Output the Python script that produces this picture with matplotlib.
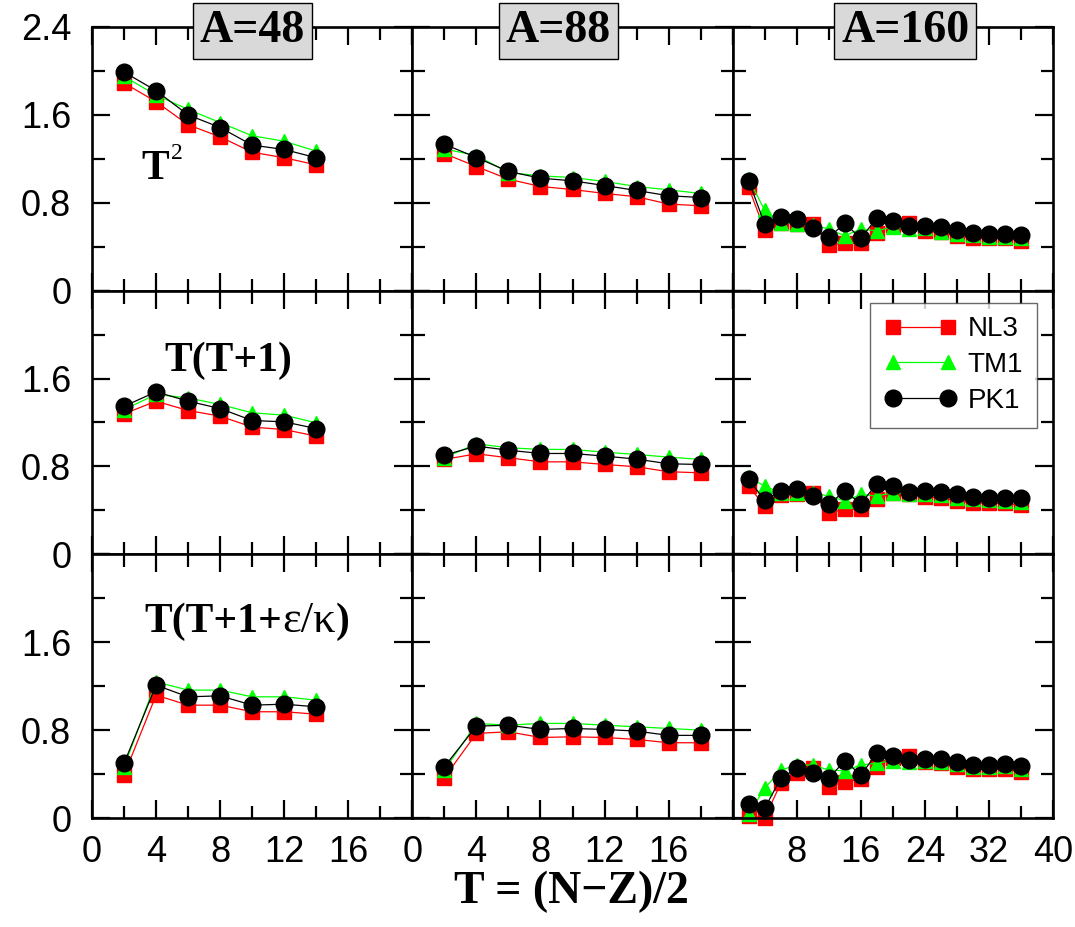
import matplotlib.pyplot as plt
from matplotlib.ticker import MultipleLocator, FuncFormatter

# isospin values for each nucleus
t_48 = [2, 4, 6, 8, 10, 12, 14]
t_88 = [2, 4, 6, 8, 10, 12, 14, 16, 18]
t_160 = [2, 4, 6, 8, 10, 12, 14, 16, 18, 20, 22, 24, 26, 28, 30, 32, 34, 36]

# row 1: T^2
nl3_a_48 = [1.89, 1.72, 1.51, 1.40, 1.26, 1.21, 1.145]
tm1_a_48 = [1.95, 1.78, 1.65, 1.53, 1.41, 1.36, 1.27]
pk1_a_48 = [1.99, 1.82, 1.60, 1.485, 1.325, 1.285, 1.21]
nl3_a_88 = [1.248, 1.13, 1.015, 0.948, 0.921, 0.885, 0.855, 0.788, 0.773]
tm1_a_88 = [1.29, 1.23, 1.075, 1.045, 1.03, 0.994, 0.948, 0.918, 0.885]
pk1_a_88 = [1.333, 1.212, 1.085, 1.024, 1.0, 0.957, 0.912, 0.864, 0.848]
nl3_a_160 = [0.94, 0.55, 0.62, 0.606, 0.61, 0.418, 0.43, 0.43, 0.527, 0.60,
             0.62, 0.54, 0.53, 0.50, 0.48, 0.475, 0.475, 0.455]
tm1_a_160 = [1.02, 0.73, 0.62, 0.61, 0.60, 0.56, 0.50, 0.56, 0.545, 0.58,
             0.56, 0.57, 0.535, 0.52, 0.505, 0.49, 0.49, 0.48]
pk1_a_160 = [1.0, 0.606, 0.667, 0.652, 0.57, 0.485, 0.612, 0.476, 0.661, 0.63,
             0.585, 0.59, 0.582, 0.555, 0.527, 0.515, 0.515, 0.509]

# row 2: T(T+1)
nl3_b_48 = [1.279, 1.394, 1.309, 1.258, 1.158, 1.136, 1.076]
tm1_b_48 = [1.318, 1.455, 1.424, 1.364, 1.288, 1.267, 1.197]
pk1_b_48 = [1.348, 1.479, 1.394, 1.327, 1.218, 1.206, 1.145]
nl3_b_88 = [0.864, 0.915, 0.879, 0.842, 0.842, 0.818, 0.797, 0.752, 0.742]
tm1_b_88 = [0.879, 1.006, 0.97, 0.955, 0.955, 0.93, 0.909, 0.885, 0.864]
pk1_b_88 = [0.903, 0.985, 0.948, 0.918, 0.918, 0.894, 0.867, 0.824, 0.818]
nl3_b_160 = [0.621, 0.439, 0.539, 0.552, 0.561, 0.379, 0.409, 0.409, 0.50, 0.561,
             0.545, 0.521, 0.515, 0.485, 0.470, 0.464, 0.464, 0.448]
tm1_b_160 = [0.70, 0.621, 0.561, 0.561, 0.561, 0.530, 0.485, 0.545, 0.53, 0.561,
             0.545, 0.545, 0.539, 0.515, 0.50, 0.491, 0.485, 0.479]
pk1_b_160 = [0.682, 0.491, 0.576, 0.591, 0.530, 0.455, 0.576, 0.461, 0.642, 0.621,
             0.570, 0.576, 0.570, 0.545, 0.524, 0.515, 0.515, 0.509]

# row 3: T(T+1+eps/kappa)
nl3_c_48 = [0.391, 1.118, 1.027, 1.027, 0.967, 0.967, 0.945]
tm1_c_48 = [0.467, 1.239, 1.164, 1.164, 1.103, 1.103, 1.073]
pk1_c_48 = [0.497, 1.209, 1.103, 1.112, 1.027, 1.036, 1.012]
nl3_c_88 = [0.367, 0.770, 0.785, 0.733, 0.739, 0.733, 0.715, 0.685, 0.685]
tm1_c_88 = [0.436, 0.861, 0.845, 0.861, 0.861, 0.845, 0.830, 0.815, 0.80]
pk1_c_88 = [0.467, 0.836, 0.845, 0.806, 0.815, 0.806, 0.791, 0.752, 0.752]
nl3_c_160 = [0.02, 0.0, 0.315, 0.412, 0.452, 0.285, 0.330, 0.352, 0.467, 0.55,
             0.564, 0.506, 0.497, 0.467, 0.442, 0.442, 0.442, 0.421]
tm1_c_160 = [0.04, 0.27, 0.436, 0.482, 0.482, 0.436, 0.43, 0.482, 0.50, 0.521,
             0.51, 0.52, 0.51, 0.49, 0.467, 0.467, 0.47, 0.45]
pk1_c_160 = [0.127, 0.088, 0.361, 0.452, 0.412, 0.361, 0.521, 0.391, 0.588, 0.567,
             0.527, 0.536, 0.536, 0.506, 0.482, 0.482, 0.491, 0.473]

nuclei = ['A=48', 'A=88', 'A=160']
t_values = [t_48, t_88, t_160]
x_max = [20, 20, 40]
panels = [
    [(nl3_a_48, tm1_a_48, pk1_a_48), (nl3_a_88, tm1_a_88, pk1_a_88), (nl3_a_160, tm1_a_160, pk1_a_160)],
    [(nl3_b_48, tm1_b_48, pk1_b_48), (nl3_b_88, tm1_b_88, pk1_b_88), (nl3_b_160, tm1_b_160, pk1_b_160)],
    [(nl3_c_48, tm1_c_48, pk1_c_48), (nl3_c_88, tm1_c_88, pk1_c_88), (nl3_c_160, tm1_c_160, pk1_c_160)],
]
styles = [('NL3', '#ff0000', 's', 9.5),
          ('TM1', '#00ff00', '^', 10.5),
          ('PK1', 'black', 'o', 12)]

SANS = 'Liberation Sans'
SERIF = 'Liberation Serif'

fig, axes = plt.subplots(3, 3, figsize=(10.75, 9.27), dpi=100)
fig.subplots_adjust(left=92 / 1075, right=1053 / 1075, top=1 - 27 / 927,
                    bottom=1 - 818 / 927, wspace=0, hspace=0)


def y_formatter(hide_top):
    def fmt(v, pos):
        if hide_top and v > 2.3:
            return ''
        return '%g' % v
    return FuncFormatter(fmt)


def x_formatter(hide):
    def fmt(v, pos):
        if abs(v - hide) < 1e-6:
            return ''
        return '%g' % v
    return FuncFormatter(fmt)


for r in range(3):
    for c in range(3):
        ax = axes[r, c]
        for (name, color, marker, ms), ys in zip(styles, panels[r][c]):
            ax.plot(t_values[c], ys, '-', color=color, lw=0.9, marker=marker,
                    ms=ms, mec=color, mfc=color, label=name, clip_on=False)
        ax.set_xlim(0, x_max[c])
        ax.set_ylim(0, 2.4)
        major = 4 if c < 2 else 8
        ax.xaxis.set_major_locator(MultipleLocator(major))
        ax.xaxis.set_minor_locator(MultipleLocator(major / 2))
        ax.yaxis.set_major_locator(MultipleLocator(0.8))
        ax.yaxis.set_minor_locator(MultipleLocator(0.4))
        ax.tick_params(which='both', direction='in', top=True, right=True, width=1.6)
        ax.tick_params(which='major', length=13)
        ax.tick_params(which='minor', length=9)
        ax.tick_params(axis='y', pad=15, labelsize=26)
        ax.tick_params(axis='x', pad=12, labelsize=26)
        for sp in ax.spines.values():
            sp.set_linewidth(1.9)
        ax.yaxis.set_major_formatter(y_formatter(r > 0))
        ax.xaxis.set_major_formatter(x_formatter(20 if c < 2 else 0))
        if c > 0:
            ax.tick_params(axis='y', labelleft=False)
        if r < 2:
            ax.tick_params(axis='x', labelbottom=False)
        for lab in ax.get_xticklabels() + ax.get_yticklabels():
            lab.set_fontfamily(SANS)

# nucleus tags on the top row
tag_x = [0.5, 0.456, 0.539]
for c, name in enumerate(nuclei):
    axes[0, c].text(tag_x[c], 0.985, name, transform=axes[0, c].transAxes,
                    ha='center', va='center', fontsize=33, fontweight='bold',
                    family=SERIF, zorder=10,
                    bbox=dict(boxstyle='square,pad=0.15', fc='#d9d9d9', ec='black', lw=1))

# formula labels
bold = dict(fontsize=30, fontweight='bold', family=SERIF)
t1 = axes[0, 0].text(0.155, 0.46, 'T', transform=axes[0, 0].transAxes,
                     ha='left', va='center', **bold)
axes[0, 0].annotate('2', xy=(1, 1), xycoords=t1, xytext=(1, 5),
                    textcoords='offset points', ha='left', va='top',
                    fontsize=17, family=SERIF)

axes[1, 0].text(0.425, 0.735, 'T(T+1)', transform=axes[1, 0].transAxes,
                ha='center', va='center', **bold)

p1 = axes[2, 0].text(0.165, 0.745, 'T(T+1+', transform=axes[2, 0].transAxes,
                     ha='left', va='center', **bold)
p2 = axes[2, 0].annotate('\u03b5/\u03ba', xy=(1, 0), xycoords=p1,
                         ha='left', va='bottom', fontsize=32, family=SERIF)
axes[2, 0].annotate(')', xy=(1, 0), xycoords=p2, ha='left', va='bottom', **bold)

leg = axes[1, 2].legend(loc='upper right', bbox_to_anchor=(0.95, 0.955),
                        borderaxespad=0, numpoints=2, handlelength=2.6,
                        prop={'family': SANS, 'size': 20}, fancybox=False,
                        frameon=True, labelspacing=0.35, handletextpad=0.4,
                        borderpad=0.5)
leg.get_frame().set_edgecolor('#444444')
leg.get_frame().set_linewidth(1.0)

fig.text(0.532, 0.038, 'T = (N\u2212Z)/2', ha='center', va='center',
         fontsize=33, fontweight='bold', family=SERIF)

fig.savefig('out.png', dpi=100)
